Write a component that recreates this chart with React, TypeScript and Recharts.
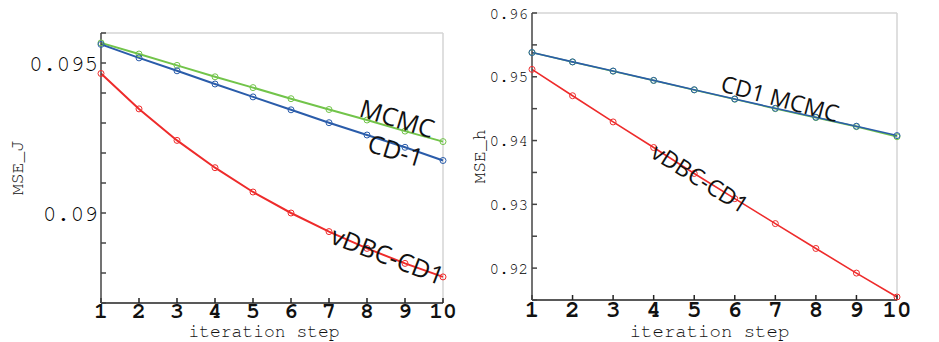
import React from 'react';
import { LineChart, Line, XAxis, YAxis, ReferenceLine, ReferenceDot, Label } from 'recharts';

const steps = [1, 2, 3, 4, 5, 6, 7, 8, 9, 10];

// Left panel: MSE_J
const leftMCMC = [0.09567, 0.0953, 0.09492, 0.09454, 0.09418, 0.09381, 0.09345, 0.0931, 0.09273, 0.09238];
const leftCD1 = [0.09562, 0.09517, 0.09474, 0.0943, 0.09387, 0.09344, 0.09301, 0.0926, 0.09219, 0.09175];
const leftVDBC = [0.09465, 0.09347, 0.09242, 0.09151, 0.0907, 0.09, 0.08938, 0.08882, 0.08832, 0.08787];
const leftTicks = [0.087, 0.088, 0.089, 0.09, 0.091, 0.092, 0.093, 0.094, 0.095, 0.096];
const leftMajor = [0.09, 0.095];
const leftMajorLabels = ['0.09', '0.095'];

// Right panel: MSE_h
const rightMCMC = [0.9538, 0.95232, 0.95088, 0.94942, 0.94794, 0.94648, 0.945, 0.9436, 0.94218, 0.9406];
const rightCD1 = [0.9538, 0.95234, 0.9509, 0.94944, 0.94797, 0.94652, 0.94506, 0.94366, 0.94225, 0.94078];
const rightVDBC = [0.95116, 0.94703, 0.94292, 0.93891, 0.93484, 0.93089, 0.92698, 0.92308, 0.91922, 0.91547];
const rightTicks = [0.915, 0.92, 0.925, 0.93, 0.935, 0.94, 0.945, 0.95, 0.955, 0.96];
const rightMajor = [0.92, 0.93, 0.94, 0.95, 0.96];
const rightMajorLabels = ['0.92', '0.93', '0.94', '0.95', '0.96'];

const GREEN = '#72c44a';
const BLUE = '#2a5caa';
const RED = '#ee2b2b';
const MONO = '"Nimbus Mono PS", "FreeMono", "Courier", "Liberation Mono", monospace';
const SANS = '"Open Sans", "Noto Sans", sans-serif';

const leftData = steps.map((s, i) => ({ step: s, mcmc: leftMCMC[i], cd1: leftCD1[i], vdbc: leftVDBC[i] }));
const rightData = steps.map((s, i) => ({ step: s, mcmc: rightMCMC[i], cd1: rightCD1[i], vdbc: rightVDBC[i] }));

const fmt = (majors: number[], labels: string[]) => (v: number) => {
  const idx = majors.findIndex((m) => Math.abs(m - v) < 1e-9);
  return idx >= 0 ? labels[idx] : '';
};

const rotText = (text: string, angle: number, size: number) => (props: any) => {
  const { cx, cy } = props;
  if (cx == null || cy == null) return <g />;
  return (
    <text
      x={cx}
      y={cy}
      textAnchor="middle"
      dominantBaseline="central"
      fontFamily={SANS}
      fontSize={size}
      fill="#111"
      transform={`rotate(${angle} ${cx} ${cy})`}
    >
      {text}
    </text>
  );
};

const yLabel = (text: string, dx: number, size: number) => (props: any) => {
  const vb = props.viewBox || {};
  const x = vb.x + dx;
  const y = vb.y + vb.height / 2;
  return (
    <text x={x} y={y} textAnchor="middle" dominantBaseline="central" fontFamily={MONO} fontSize={size} fill="#111" transform={`rotate(-90 ${x} ${y})`}>
      {text}
    </text>
  );
};

const xLabel = (text: string, dx: number, baseline: number, size: number) => (props: any) => {
  const vb = props.viewBox || {};
  const x = vb.x + vb.width / 2 + dx;
  return (
    <text x={x} y={baseline} textAnchor="middle" fontFamily={MONO} fontSize={size} fill="#111">
      {text}
    </text>
  );
};

export default function App() {
  return (
    <div style={{ position: 'absolute', left: 0, top: 0, width: 939, height: 342, background: '#fff', overflow: 'hidden' }}>
      <div style={{ position: 'absolute', left: 0, top: 0 }}>
        <LineChart width={470} height={342} data={leftData} margin={{ top: 33, right: 27, bottom: 0, left: 0 }}>
          <XAxis
            dataKey="step"
            type="number"
            domain={[1, 10]}
            ticks={steps}
            height={39}
            stroke="#222"
            strokeWidth={1.5}
            tickSize={-5}
            tickMargin={4}
            tick={{ fontFamily: MONO, fontSize: 23, fontWeight: 'bold', fill: '#111' }}
            interval={0}
          >
            <Label content={xLabel('iteration step', -8, 337, 18)} />
          </XAxis>
          <YAxis
            type="number"
            domain={[0.087, 0.096]}
            ticks={leftTicks}
            width={101}
            stroke="#444"
            strokeWidth={1.5}
            tickSize={-5}
            tickMargin={8}
            interval={0}
            tickFormatter={fmt(leftMajor, leftMajorLabels)}
            tick={{ fontFamily: MONO, fontSize: 23, fill: '#000' }}
          >
            <Label content={yLabel('MSE_J', 18, 18)} />
          </YAxis>
          <ReferenceLine y={0.096} stroke="#d4d4d4" strokeWidth={1.5} />
          <ReferenceLine x={10} stroke="#d4d4d4" strokeWidth={1.5} />
          <Line dataKey="mcmc" stroke={GREEN} strokeWidth={2} dot={{ r: 3, strokeWidth: 1, fill: 'none', stroke: GREEN }} isAnimationActive={false} />
          <Line dataKey="cd1" stroke={BLUE} strokeWidth={2} dot={{ r: 3, strokeWidth: 1, fill: 'none', stroke: BLUE }} isAnimationActive={false} />
          <Line dataKey="vdbc" stroke={RED} strokeWidth={2} dot={{ r: 3, strokeWidth: 1, fill: 'none', stroke: RED }} isAnimationActive={false} />
          <ReferenceDot x={8.8} y={0.09318} r={0} shape={rotText('MCMC', 17, 25)} />
          <ReferenceDot x={8.76} y={0.09211} r={0} shape={rotText('CD-1', 17, 25)} />
          <ReferenceDot x={8.55} y={0.08861} r={0} shape={rotText('vDBC-CD1', 21, 25)} />
        </LineChart>
      </div>
      <div style={{ position: 'absolute', left: 470, top: 0 }}>
        <LineChart width={469} height={342} data={rightData} margin={{ top: 13, right: 42, bottom: 0, left: 0 }}>
          <XAxis
            dataKey="step"
            type="number"
            domain={[1, 10]}
            ticks={steps}
            height={42}
            stroke="#222"
            strokeWidth={1.5}
            tickSize={-5}
            tickMargin={5}
            tick={{ fontFamily: MONO, fontSize: 24, fontWeight: 'bold', fill: '#111' }}
            interval={0}
          >
            <Label content={xLabel('iteration step', -5, 337, 19)} />
          </XAxis>
          <YAxis
            type="number"
            domain={[0.915, 0.96]}
            ticks={rightTicks}
            width={62}
            stroke="#444"
            strokeWidth={1.5}
            tickSize={-5}
            tickMargin={9}
            interval={0}
            tickFormatter={fmt(rightMajor, rightMajorLabels)}
            tick={{ fontFamily: MONO, fontSize: 16, fill: '#000' }}
          >
            <Label content={yLabel('MSE_h', 10, 18)} />
          </YAxis>
          <ReferenceLine y={0.96} stroke="#d4d4d4" strokeWidth={1.5} />
          <ReferenceLine x={10} stroke="#d4d4d4" strokeWidth={1.5} />
          <Line dataKey="mcmc" stroke={GREEN} strokeWidth={1.6} dot={{ r: 3, strokeWidth: 1, fill: 'none', stroke: GREEN }} isAnimationActive={false} />
          <Line dataKey="cd1" stroke={BLUE} strokeWidth={1.6} dot={{ r: 3, strokeWidth: 1, fill: 'none', stroke: BLUE }} isAnimationActive={false} />
          <Line dataKey="vdbc" stroke={RED} strokeWidth={1.6} dot={{ r: 3, strokeWidth: 1, fill: 'none', stroke: RED }} isAnimationActive={false} />
          <ReferenceDot x={7.12} y={0.94667} r={0} shape={rotText('CD1 MCMC', 15, 23)} />
          <ReferenceDot x={5.15} y={0.93417} r={0} shape={rotText('vDBC-CD1', 32, 23)} />
        </LineChart>
      </div>
    </div>
  );
}
